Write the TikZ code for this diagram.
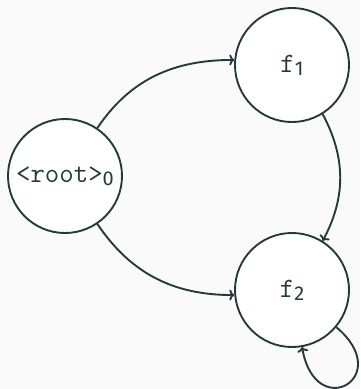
\documentclass[tikz,border=0pt]{standalone}
\usepackage{fontspec}
\newfontfamily\subfont{Fira Sans}
\usetikzlibrary{arrows.meta}
\definecolor{ink}{HTML}{263A3D}
\definecolor{bg}{HTML}{FAFAFA}
\newcommand{\lbl}[2]{{\ttfamily\fontsize{28}{32}\selectfont #1}\raisebox{-0.3em}{\subfont\fontsize{20}{20}\selectfont #2}}
\begin{document}
\begin{tikzpicture}[x=1pt,y=-1pt,
  state/.style={circle,draw=ink,fill=white,line width=1.9pt,minimum size=114pt,inner sep=0pt,text=ink},
  edge/.style={draw=ink,line width=1.9pt,-{To[length=5pt,width=11pt]}}]
\fill[bg] (0,0) rectangle (360,389);
\useasboundingbox (0,0) rectangle (360,389);
\node[state] (root) at (65,176) {\lbl{<root>}{0}};
\node[state] (f1) at (292,65) {\lbl{f}{1}};
\node[state] (f2) at (292,290) {\lbl{f}{2}};
\draw[edge] (root.56) to[out=56,in=180] (f1.175);
\draw[edge] (root.-56) to[out=-56,in=180] (f2.185);
\draw[edge] (f1.-58) to[out=-62,in=62] (f2.58);
\draw[edge] (f2.-40) to[out=-40,in=-80,looseness=5] (f2.-80);
\end{tikzpicture}
\end{document}
